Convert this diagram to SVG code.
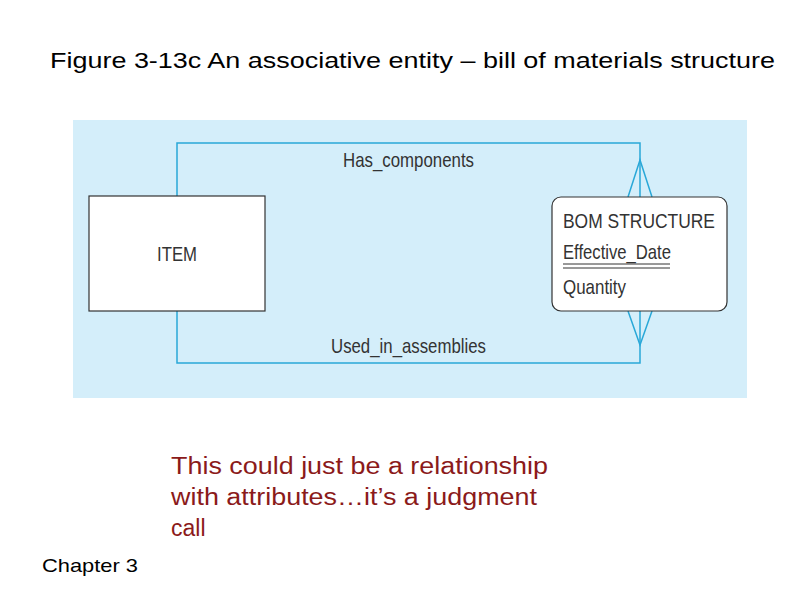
<svg xmlns="http://www.w3.org/2000/svg" width="800" height="600" viewBox="0 0 800 600">
<style>
.t{font-family:"Liberation Sans",Arial,sans-serif}
.c{fill:none;stroke:#29a8d8;stroke-width:1.5}
.n{fill:#fff;stroke:#333;stroke-width:1.2}
.d{font-family:"Liberation Sans",Arial,sans-serif;fill:#333;font-size:21px}
</style>
<rect width="800" height="600" fill="#fff"/>
<text class="t" x="50" y="68" font-size="22" fill="#000" textLength="725" lengthAdjust="spacingAndGlyphs">Figure 3-13c An associative entity – bill of materials structure</text>
<rect x="73" y="120" width="674" height="278" fill="#d4eefa"/>
<g id="connectors">
<polyline class="c" points="177,196 177,143 640,143 640,197"/>
<polyline class="c" points="628,197 640,160 652,197"/>
<polyline class="c" points="177,311 177,363 640,363 640,311"/>
<polyline class="c" points="628,311 640,345 652,311"/>
<text class="d" x="343" y="167" textLength="131" lengthAdjust="spacingAndGlyphs">Has_components</text>
<text class="d" x="331" y="353" textLength="155" lengthAdjust="spacingAndGlyphs">Used_in_assemblies</text>
</g>
<g id="item">
<rect class="n" x="89" y="196" width="176" height="115"/>
<text class="d" x="157" y="261" textLength="40" lengthAdjust="spacingAndGlyphs">ITEM</text>
</g>
<g id="bom">
<rect class="n" x="552" y="197" width="175" height="114" rx="9"/>
<text class="d" x="563" y="228" textLength="152" lengthAdjust="spacingAndGlyphs">BOM STRUCTURE</text>
<text class="d" x="563" y="259" textLength="108" lengthAdjust="spacingAndGlyphs">Effective_Date</text>
<line x1="563" y1="264" x2="670" y2="264" stroke="#333"/>
<line x1="563" y1="268" x2="670" y2="268" stroke="#333"/>
<text class="d" x="563" y="294" textLength="63" lengthAdjust="spacingAndGlyphs">Quantity</text>
</g>
<g class="t" font-size="23" fill="#8b1a1a">
<text x="171" y="474" textLength="377" lengthAdjust="spacingAndGlyphs">This could just be a relationship</text>
<text x="171" y="505" textLength="366" lengthAdjust="spacingAndGlyphs">with attributes…it’s a judgment</text>
<text x="171" y="536">call</text>
</g>
<text class="t" x="42" y="572" font-size="19" fill="#000" textLength="96" lengthAdjust="spacingAndGlyphs">Chapter 3</text>
</svg>
